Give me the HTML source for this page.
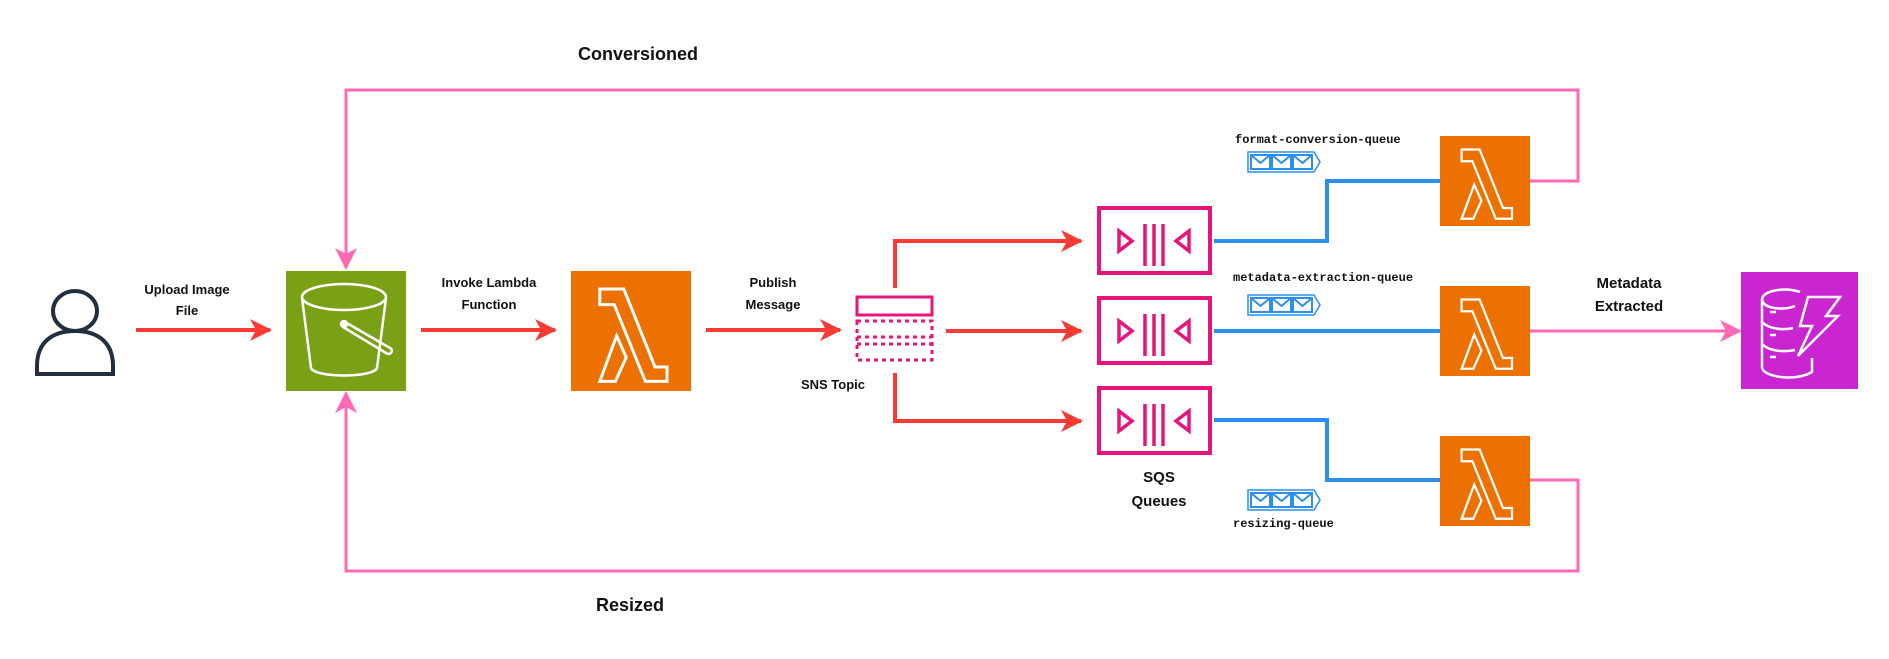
<!DOCTYPE html>
<html><head><meta charset="utf-8"><style>
html,body{margin:0;padding:0;background:#fff;}
svg{display:block;}
text{font-family:"Liberation Sans",sans-serif;font-weight:bold;fill:#111;}
.m{font-family:"Liberation Mono",monospace;font-size:12px;font-weight:bold;}
</style></head><body>
<svg width="1889" height="659" viewBox="0 0 1889 659" xmlns="http://www.w3.org/2000/svg">
<defs>
<marker id="ar" markerWidth="22" markerHeight="22" refX="20" refY="11" orient="auto" markerUnits="userSpaceOnUse" viewBox="0 0 22 22"><path d="M0,0 L22,11 L0,22 L6,11 Z" fill="#f93b34"/></marker>
<marker id="ap" markerWidth="22" markerHeight="22" refX="20" refY="11" orient="auto" markerUnits="userSpaceOnUse" viewBox="0 0 22 22"><path d="M0,0 L22,11 L0,22 L6,11 Z" fill="#ff69b4"/></marker>
<g id="lam"><path d="M24,15 H44 L70,80 H80 V92 H62 L36,28 H24 Z M24,92 L38,54 L46,72 L37,92 Z" fill="none" stroke="#fff" stroke-width="2.5" stroke-linejoin="miter"/></g>
<g id="sqs"><rect x="2" y="2" width="111" height="65" fill="#fff" stroke="#e7157b" stroke-width="4"/>
<path d="M22,25 l13,10 l-13,10 z M92,25 l-13,10 l13,10 z" fill="none" stroke="#e7157b" stroke-width="3.5"/>
<path d="M48,18 v42 M57,18 v42 M66,18 v42" stroke="#e7157b" stroke-width="3.5"/></g>
<g id="msg"><path d="M1,1 h66 l6,10 l-6,10 h-66 z" fill="#fff" stroke="#2b8ef0" stroke-width="1.5"/>
<rect x="4" y="4" width="19" height="14" fill="none" stroke="#2b8ef0" stroke-width="2"/><path d="M4,4 l9.5,8 l9.5,-8" fill="none" stroke="#2b8ef0" stroke-width="2"/>
<rect x="25" y="4" width="19" height="14" fill="none" stroke="#2b8ef0" stroke-width="2"/><path d="M25,4 l9.5,8 l9.5,-8" fill="none" stroke="#2b8ef0" stroke-width="2"/>
<rect x="46" y="4" width="19" height="14" fill="none" stroke="#2b8ef0" stroke-width="2"/><path d="M46,4 l9.5,8 l9.5,-8" fill="none" stroke="#2b8ef0" stroke-width="2"/></g>
</defs>

<!-- pink loops -->
<path d="M1530,181 H1578 V90 H346 V268" fill="none" stroke="#ff69b4" stroke-width="3" marker-end="url(#ap)"/>
<path d="M1530,480 H1578 V571 H346 V393" fill="none" stroke="#ff69b4" stroke-width="3" marker-end="url(#ap)"/>
<path d="M1530,331 H1740" fill="none" stroke="#ff69b4" stroke-width="3" marker-end="url(#ap)"/>

<!-- blue -->
<path d="M1214,241 H1327 V181 H1440" fill="none" stroke="#2b8ef0" stroke-width="4"/>
<path d="M1214,331 H1440" fill="none" stroke="#2b8ef0" stroke-width="4"/>
<path d="M1214,420 H1327 V480 H1440" fill="none" stroke="#2b8ef0" stroke-width="4"/>

<!-- red arrows -->
<path d="M136,330 H270" stroke="#f93b34" stroke-width="4" marker-end="url(#ar)"/>
<path d="M421,330 H555" stroke="#f93b34" stroke-width="4" marker-end="url(#ar)"/>
<path d="M706,330 H840" stroke="#f93b34" stroke-width="4" marker-end="url(#ar)"/>
<path d="M895,288 V241 H1081" fill="none" stroke="#f93b34" stroke-width="4" marker-end="url(#ar)"/>
<path d="M946,331 H1081" fill="none" stroke="#f93b34" stroke-width="4" marker-end="url(#ar)"/>
<path d="M895,373 V421 H1081" fill="none" stroke="#f93b34" stroke-width="4" marker-end="url(#ar)"/>

<!-- person -->
<g fill="none" stroke="#232f3e" stroke-width="4">
<ellipse cx="75" cy="311" rx="22" ry="20"/>
<path d="M37,374 V366 C37,340 55,331 75,331 C95,331 113,340 113,366 V374 Z"/>
</g>

<!-- bucket -->
<rect x="286" y="271" width="120" height="120" fill="#7aa116"/>
<g fill="none" stroke="#fff" stroke-width="2.5">
<ellipse cx="344" cy="297" rx="42" ry="13"/>
<path d="M302,298 L311,368 C315,378 373,378 377,368 L386,298"/>
<path d="M345,322 L390,348 C394,350 391,356 386,353 L343,327"/>
<circle cx="344" cy="324" r="3" fill="#fff"/>
</g>

<!-- lambda 1 -->
<rect x="571" y="271" width="120" height="120" fill="#ed7100"/>
<g transform="translate(571,271) scale(1.2)"><use href="#lam"/></g>

<!-- SNS -->
<rect x="857" y="297" width="75" height="18" fill="#fff" stroke="#e7157b" stroke-width="3"/>
<rect x="857" y="321" width="75" height="39" fill="none" stroke="#e7157b" stroke-width="3" stroke-dasharray="4 4"/>
<path d="M857,337 H932 M857,344 H932" stroke="#e7157b" stroke-width="3" stroke-dasharray="4 4"/>

<!-- SQS -->
<use href="#sqs" x="1097" y="206"/>
<use href="#sqs" x="1097" y="296"/>
<use href="#sqs" x="1097" y="386"/>

<!-- lambdas -->
<rect x="1440" y="136" width="90" height="90" fill="#ed7100"/>
<g transform="translate(1440,136) scale(0.9)"><use href="#lam"/></g>
<rect x="1440" y="286" width="90" height="90" fill="#ed7100"/>
<g transform="translate(1440,286) scale(0.9)"><use href="#lam"/></g>
<rect x="1440" y="436" width="90" height="90" fill="#ed7100"/>
<g transform="translate(1440,436) scale(0.9)"><use href="#lam"/></g>

<!-- dynamo -->
<rect x="1741" y="272" width="117" height="117" fill="#c925d1"/>
<g fill="none" stroke="#fff" stroke-width="2.5">
<path d="M1800,292 C1785,287 1762,290 1762,300 V367 C1762,377 1795,382 1812,372 V358"/>
<path d="M1762,300 C1765,310 1785,310 1795,306 M1762,322 C1770,330 1785,330 1793,328 M1762,344 C1770,352 1785,352 1795,350"/>
<path d="M1770,312 h6 M1770,335 h6 M1770,357 h6"/>
<path d="M1808,297 H1840 L1826,316 H1838 L1798,356 L1812,326 H1800 Z"/>
</g>

<!-- message icons -->
<use href="#msg" x="1247" y="151"/>
<use href="#msg" x="1247" y="294"/>
<use href="#msg" x="1247" y="489"/>

<!-- labels -->
<text x="638" y="60" font-size="18" text-anchor="middle">Conversioned</text>
<text x="630" y="611" font-size="18" text-anchor="middle">Resized</text>
<text x="187" y="294" font-size="13" text-anchor="middle">Upload Image</text>
<text x="187" y="315" font-size="13" text-anchor="middle">File</text>
<text x="489" y="287" font-size="13" text-anchor="middle">Invoke Lambda</text>
<text x="489" y="309" font-size="13" text-anchor="middle">Function</text>
<text x="773" y="287" font-size="13" text-anchor="middle">Publish</text>
<text x="773" y="309" font-size="13" text-anchor="middle">Message</text>
<text x="833" y="389" font-size="13" text-anchor="middle">SNS Topic</text>
<text x="1159" y="482" font-size="15" text-anchor="middle">SQS</text>
<text x="1159" y="506" font-size="15" text-anchor="middle">Queues</text>
<text x="1629" y="288" font-size="15" text-anchor="middle">Metadata</text>
<text x="1629" y="311" font-size="15" text-anchor="middle">Extracted</text>
<text class="m" x="1235" y="143">format-conversion-queue</text>
<text class="m" x="1233" y="281">metadata-extraction-queue</text>
<text class="m" x="1233" y="527">resizing-queue</text>
</svg>
</body></html>
